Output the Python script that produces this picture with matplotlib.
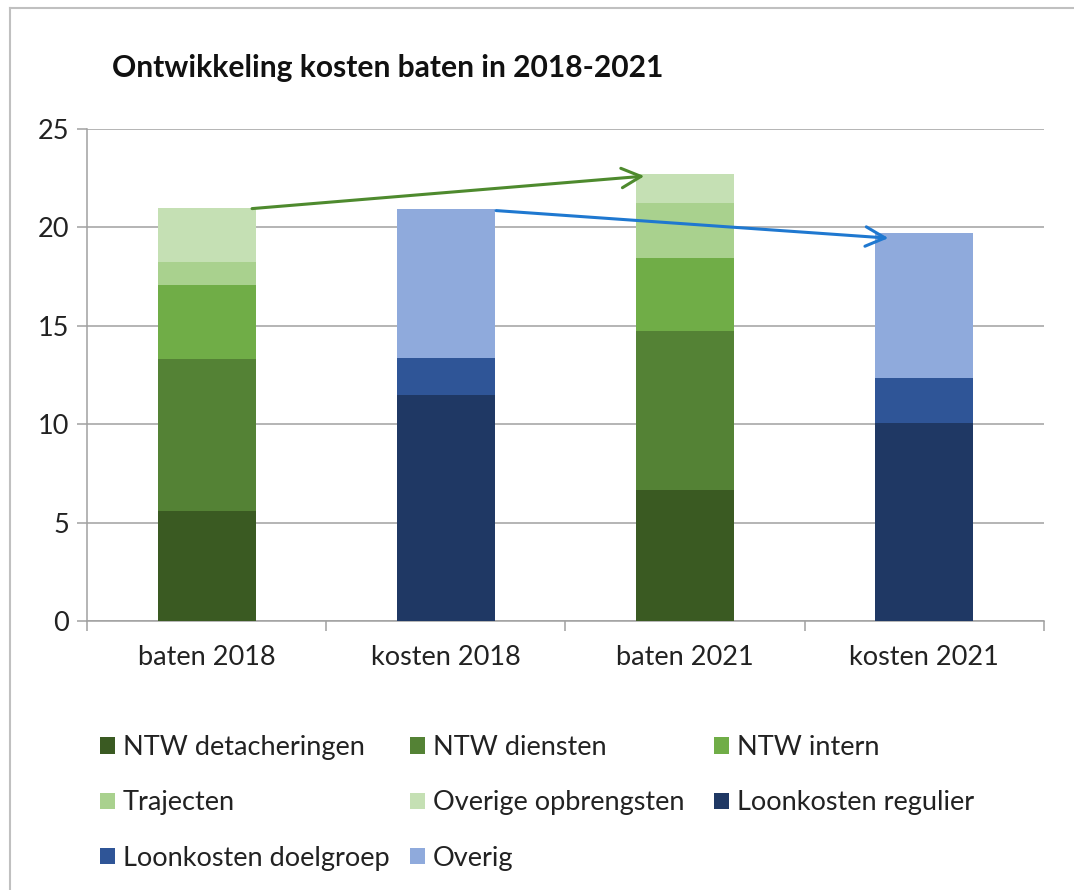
import matplotlib.pyplot as plt
from matplotlib.lines import Line2D
from matplotlib.patches import FancyArrowPatch

plt.rcParams['font.family'] = ['Lato', 'DejaVu Sans']

## Data
categories = ['baten 2018', 'kosten 2018', 'baten 2021', 'kosten 2021']
series_names = ['NTW detacheringen', 'NTW diensten', 'NTW intern', 'Trajecten',
                'Overige opbrengsten', 'Loonkosten regulier', 'Loonkosten doelgroep',
                'Overig']
ntw_detacheringen = [5.6, 0, 6.65, 0]
ntw_diensten = [7.7, 0, 8.1, 0]
ntw_intern = [3.75, 0, 3.7, 0]
trajecten = [1.2, 0, 2.8, 0]
overige_opbrengsten = [2.75, 0, 1.45, 0]
loonkosten_regulier = [0, 11.5, 0, 10.05]
loonkosten_doelgroep = [0, 1.85, 0, 2.3]
overig = [0, 7.6, 0, 7.35]
yticks = [0, 5, 10, 15, 20, 25]

series = [ntw_detacheringen, ntw_diensten, ntw_intern, trajecten,
          overige_opbrengsten, loonkosten_regulier, loonkosten_doelgroep, overig]
colors = ['#3a5a22', '#548235', '#70ad47', '#a9d18e', '#c5e0b4',
          '#1f3864', '#2f5597', '#8faadc']

grid_col = '#a0a0a0'

fig = plt.figure(figsize=(10.74, 8.9), dpi=100)
ax = fig.add_axes([0.081, 0.3022, 0.891, 0.553])

x = range(len(categories))
bottoms = [0.0] * len(categories)
handles = []
for vals, col, name in zip(series, colors, series_names):
    b = ax.bar(x, vals, width=0.41, bottom=bottoms, color=col, label=name, zorder=3)
    handles.append(b)
    bottoms = [bo + v for bo, v in zip(bottoms, vals)]

# arrows between bar tops
tot = bottoms
ax.add_patch(FancyArrowPatch((0.19, tot[0] - 0.05), (1.83, tot[2] - 0.1),
                             arrowstyle='->,head_length=14,head_width=7',
                             color='#4e8a2e', lw=2.2, zorder=5, shrinkA=0, shrinkB=0))
ax.add_patch(FancyArrowPatch((1.21, tot[1] - 0.1), (2.85, 19.45),
                             arrowstyle='->,head_length=14,head_width=7',
                             color='#1f78d0', lw=2.2, zorder=5, shrinkA=0, shrinkB=0))

ax.set_xlim(-0.5, 3.5)
ax.set_ylim(0, 25)
ax.set_yticks(yticks)
ax.set_xticks(list(x))
ax.set_xticklabels(categories, fontsize=19.5, color='#222222')
ax.set_xticks([-0.5, 0.5, 1.5, 2.5, 3.5], minor=True)
ax.tick_params(axis='x', which='major', length=0, pad=17)
ax.tick_params(axis='x', which='minor', length=7, width=1.1, color=grid_col, direction='out')
ax.tick_params(axis='y', labelsize=19.5, labelcolor='#222222', length=7, width=1.1,
               color=grid_col, pad=6)
ax.yaxis.grid(True, color=grid_col, lw=1.1, zorder=0)
ax.set_axisbelow(True)
for s in ['top', 'right']:
    ax.spines[s].set_visible(False)
for s in ['left', 'bottom']:
    ax.spines[s].set_color(grid_col)
    ax.spines[s].set_linewidth(1.1)

fig.text(112 / 1074, 1 - 68 / 890, 'Ontwikkeling kosten baten in 2018-2021',
         fontsize=21.6, fontweight='bold', va='center', ha='left', color='#111111')

# legend: three equal-width columns, filled row by row like the original
columns = [[0, 3, 6], [1, 4, 7], [2, 5]]
col_x = [100, 410, 714]
for idx, cx in zip(columns, col_x):
    fig.legend([handles[i] for i in idx], [series_names[i] for i in idx],
               loc='upper left', bbox_to_anchor=(cx / 1074, 1 - 735 / 890),
               frameon=False, fontsize=19.5, handlelength=0.55, handleheight=0.55,
               handletextpad=0.3, labelspacing=1.12,
               borderpad=0, borderaxespad=0, labelcolor='#222222')

# thin outer frame (top and left edges)
fig.add_artist(Line2D([10 / 1074, 1], [1 - 7.5 / 890, 1 - 7.5 / 890],
                      color='#c0c0c0', lw=1.5, transform=fig.transFigure))
fig.add_artist(Line2D([10 / 1074, 10 / 1074], [0, 1 - 7.5 / 890],
                      color='#c0c0c0', lw=1.5, transform=fig.transFigure))

fig.savefig('out.png', dpi=100)
